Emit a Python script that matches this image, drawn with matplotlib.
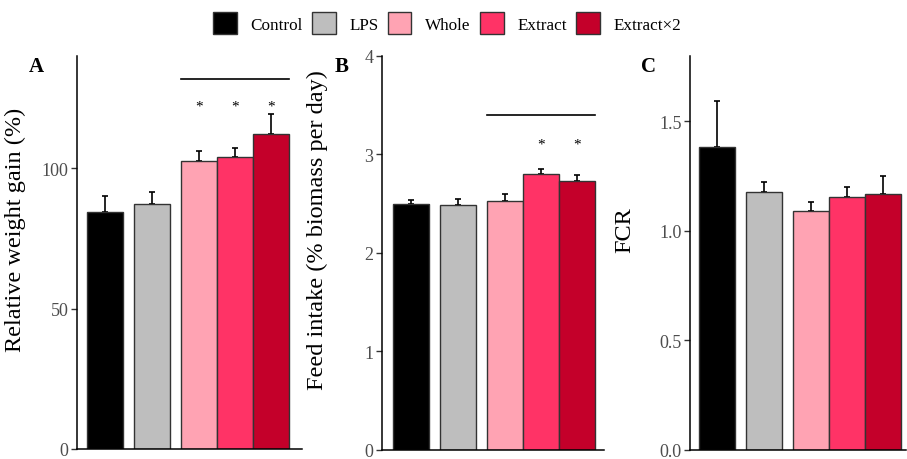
import matplotlib
matplotlib.use("Agg")
import matplotlib.pyplot as plt
from matplotlib.patches import Patch

plt.rcParams['font.family'] = ['Liberation Serif', 'DejaVu Serif']

groups = ["Control", "LPS", "Whole", "Extract", "Extract\u00d72"]
colors = ["#000000", "#bebebe", "#ffa3b3", "#ff3366", "#c4002a"]
xpos = [0, 1.3, 2.6, 3.6, 4.6]

# panel A: relative weight gain
wg_mean = [84.4, 87.1, 102.6, 104.0, 112.3]
wg_top = [90.0, 91.6, 106.2, 107.2, 119.3]
wg_stars = [False, False, True, True, True]

# panel B: feed intake
fi_mean = [2.49, 2.48, 2.52, 2.80, 2.73]
fi_top = [2.53, 2.55, 2.60, 2.85, 2.79]
fi_stars = [False, False, False, True, True]

# panel C: FCR
fcr_mean = [1.383, 1.177, 1.090, 1.154, 1.166]
fcr_top = [1.594, 1.225, 1.131, 1.201, 1.251]
fcr_stars = [False] * 5

W, H = 907, 460
fig = plt.figure(figsize=(W / 100, H / 100), dpi=100)


def px_axes(l, r, t, b):
    return fig.add_axes([l / W, 1 - b / H, (r - l) / W, (b - t) / H])


def panel(ax, mean, top, stars, ylim, ticks, ticklabels, ylabel, letter,
          xlim, line_y=None, star_y=None, label_x=None, letter_x=None):
    ax.bar(xpos, mean, width=1.0, color=colors, edgecolor="#333333",
           linewidth=1.0, zorder=2)
    err = [t - m for t, m in zip(top, mean)]
    ax.errorbar(xpos, mean, yerr=[[0] * len(mean), err], fmt="none",
                ecolor="black", elinewidth=1.2, capsize=2.5, capthick=1.2,
                zorder=1)
    ax.set_xlim(*xlim)
    ax.set_ylim(*ylim)
    ax.set_yticks(ticks)
    ax.set_yticklabels(ticklabels)
    ax.set_xticks([])
    for s in ["top", "right"]:
        ax.spines[s].set_visible(False)
    for s in ["left", "bottom"]:
        ax.spines[s].set_linewidth(1.1)
    ax.tick_params(axis="y", length=4, width=1, color="#333333",
                   labelsize=13, labelcolor="#4d4d4d", pad=2)
    ax.set_ylabel(ylabel, fontsize=17.5, color="black")
    ax.yaxis.set_label_coords(label_x, 0.5, transform=fig.transFigure)
    fig.text(letter_x, 1 - 67 / H, letter, fontsize=15, fontweight="bold",
             ha="center", va="center")
    if line_y is not None:
        ax.plot([xpos[2] - 0.5, xpos[4] + 0.5], [line_y, line_y],
                color="black", lw=1.2, clip_on=False)
    for x, s in zip(xpos, stars):
        if s:
            ax.text(x, star_y, "*", ha="center", va="center", fontsize=11)


axA = px_axes(77, 302, 57, 450)
panel(axA, wg_mean, wg_top, wg_stars, (0, 140), [0, 50, 100],
      ["0", "50", "100"], "Relative weight gain (%)", "A",
      (-0.78, 5.47), line_y=131.9, star_y=122.3, label_x=26 / W,
      letter_x=36 / W)

axB = px_axes(381.7, 604, 56.7, 450.7)
panel(axB, fi_mean, fi_top, fi_stars, (0, 4), [0, 1, 2, 3, 4],
      ["0", "1", "2", "3", "4"], "Feed intake (% biomass per day)", "B",
      (-0.81, 5.36), line_y=3.40, star_y=3.10, label_x=328 / W,
      letter_x=342 / W)

axC = px_axes(690, 906, 56.7, 450.7)
panel(axC, fcr_mean, fcr_top, fcr_stars, (0, 1.8), [0, 0.5, 1.0, 1.5],
      ["0.0", "0.5", "1.0", "1.5"], "FCR", "C",
      (-0.76, 5.24), label_x=635 / W, letter_x=648 / W)

handles = [Patch(facecolor=c, edgecolor="#333333", linewidth=1.0)
           for c in colors]
fig.legend(handles, groups, loc="center", bbox_to_anchor=(0.493, 1 - 24 / H),
           ncol=5, frameon=False, fontsize=12.3, handlelength=1.38,
           handleheight=1.6, handletextpad=0.8, columnspacing=0.55)

fig.savefig("out.png", dpi=100)
